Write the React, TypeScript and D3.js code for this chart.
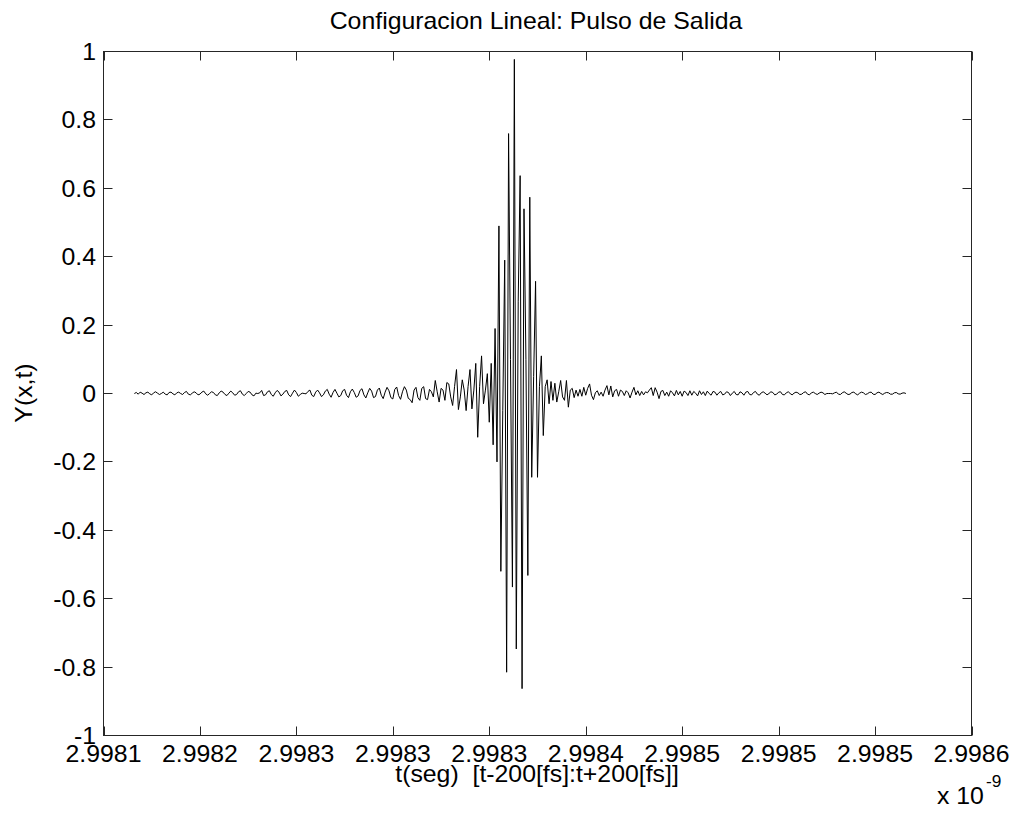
import React from 'react';
import * as d3 from 'd3';

// Sampled output pulse Y(x,t), one sample per fs, t from t-200fs to t+200fs (units: 1e-9 s)
const tStart = 2.998166;
const tEnd = 2.998566;
const yValues: number[] = [
  0.000, 0.003, -0.002, 0.004, 0.001, -0.003, 0.002, 0.004, -0.001, -0.004,
  0.002, 0.005, 0.001, -0.003, 0.000, 0.004, -0.002, -0.004, 0.003, 0.004,
  -0.001, -0.004, 0.002, 0.004, 0.000, -0.003, 0.003, 0.006, -0.002, -0.004,
  0.001, 0.005, 0.002, -0.004, -0.002, 0.004, 0.007, -0.001, -0.005, 0.000,
  0.005, 0.003, -0.004, -0.006, 0.002, 0.007, 0.004, -0.003, -0.006, 0.001,
  0.007, 0.002, -0.005, -0.003, 0.005, 0.008, -0.002, -0.006, 0.000, 0.006,
  0.004, -0.004, -0.007, 0.001, 0.000, 0.002, 0.009, -0.006, -0.004, 0.005,
  0.008, -0.003, -0.008, 0.002, 0.009, 0.004, -0.007, -0.002, 0.006, 0.009,
  -0.004, -0.009, 0.001, 0.010, 0.003, -0.008, -0.003, 0.001, 0.000, -0.001,
  0.006, 0.010, -0.005, -0.009, 0.004, 0.010, 0.002, -0.009, -0.004, 0.007,
  0.012, -0.002, -0.011, 0.003, 0.012, 0.001, -0.010, -0.006, 0.008, 0.012,
  -0.005, -0.012, 0.005, 0.013, 0.003, -0.011, -0.007, 0.009, 0.014, -0.004,
  -0.013, 0.002, 0.015, 0.007, -0.012, -0.009, 0.010, 0.016, -0.005, -0.015,
  0.004, 0.018, 0.008, -0.012, -0.016, 0.012, 0.019, -0.006, -0.017, 0.005,
  0.020, 0.010, -0.014, -0.018, -0.027, 0.010, 0.018, -0.012, -0.020, 0.015,
  0.020, -0.015, -0.018, 0.012, 0.005, -0.010, 0.038, 0.005, -0.025, 0.015,
  0.010, -0.020, 0.032, 0.028, -0.010, -0.035, 0.020, 0.070, -0.047, -0.010,
  0.040, 0.010, -0.050, 0.020, 0.070, -0.045, 0.010, 0.088, -0.128, 0.020,
  0.110, -0.030, 0.010, 0.058, -0.084, 0.088, -0.150, 0.190, -0.200, 0.490,
  -0.520, -0.050, 0.390, -0.815, 0.760, 0.100, -0.566, 0.977, -0.747, 0.270,
  0.637, -0.863, 0.540, 0.100, -0.532, 0.574, -0.245, 0.050, 0.328, -0.245,
  0.020, 0.110, -0.123, 0.020, 0.040, -0.030, 0.035, -0.020, 0.030, -0.025,
  0.005, 0.038, -0.010, -0.020, 0.038, -0.040, 0.010, 0.015, -0.012, 0.010,
  -0.008, 0.012, -0.008, 0.018, -0.005, 0.015, 0.028, -0.005, -0.018, 0.002,
  0.008, -0.006, 0.004, -0.008, 0.010, 0.023, -0.004, 0.022, -0.010, 0.008,
  0.012, -0.008, 0.010, 0.006, -0.006, 0.008, 0.002, -0.013, 0.004, 0.018,
  -0.004, 0.008, -0.006, 0.006, -0.004, 0.005, 0.002, 0.010, 0.017, -0.006,
  0.017, 0.004, -0.015, 0.006, 0.009, -0.006, 0.004, -0.008, 0.008, 0.002,
  -0.007, 0.009, -0.004, 0.006, -0.008, 0.007, 0.003, -0.006, 0.008, -0.005,
  0.006, 0.001, -0.007, 0.008, -0.003, 0.005, -0.006, 0.007, 0.000, -0.005,
  0.006, 0.004, -0.005, 0.002, 0.006, -0.004, -0.002, 0.005, 0.003, -0.006,
  0.001, 0.006, -0.003, -0.004, 0.005, 0.002, -0.005, 0.004, 0.006, -0.003,
  -0.004, 0.003, 0.006, -0.002, -0.005, 0.002, 0.005, 0.001, -0.004, 0.000,
  0.005, 0.003, -0.004, -0.002, 0.004, 0.005, -0.003, -0.004, 0.002, 0.005,
  0.000, -0.004, 0.001, 0.004, 0.002, -0.003, -0.002, 0.003, 0.005, -0.002,
  -0.004, 0.002, 0.004, 0.000, -0.003, 0.001, 0.004, 0.002, -0.003, 0.000,
  0.000, 0.000, -0.001, 0.002, 0.004, -0.002, -0.003, 0.002, 0.005, 0.001,
  -0.003, -0.002, 0.003, 0.004, -0.001, -0.004, 0.001, 0.004, 0.002, -0.003,
  -0.001, 0.003, 0.004, -0.002, -0.003, 0.002, 0.004, 0.000, -0.003, 0.001,
  0.003, 0.002, -0.002, -0.002, 0.002, 0.003, -0.001, -0.002, 0.001, 0.002,
  0.000,
];

const xDomain = [2.99815, 2.9986];
const xTickValues = [2.99815, 2.9982, 2.99825, 2.9983, 2.99835, 2.9984, 2.99845, 2.9985, 2.99855, 2.9986];
const xTickLabels = ['2.9981', '2.9982', '2.9983', '2.9983', '2.9983', '2.9984', '2.9985', '2.9985', '2.9985', '2.9986'];
const yTickValues = [1, 0.8, 0.6, 0.4, 0.2, 0, -0.2, -0.4, -0.6, -0.8, -1];
const yTickLabels = ['1', '0.8', '0.6', '0.4', '0.2', '0', '-0.2', '-0.4', '-0.6', '-0.8', '-1'];

const titleText = 'Configuracion Lineal: Pulso de Salida';
const xLabelText = 't(seg)  [t-200[fs]:t+200[fs]]';
const yLabelText = 'Y(x,t)';

const FONT = "'Liberation Sans', Arial, Helvetica, sans-serif";
const FS = 23;
const SX = 1.08;

function T({ x, y, anchor = 'middle', size = FS, rotate = 0, children }: any) {
  return (
    <text
      transform={`translate(${x},${y}) rotate(${rotate}) scale(${SX},1)`}
      textAnchor={anchor}
      fontFamily={FONT}
      fontSize={size}
      fill="#000"
      style={{ whiteSpace: 'pre' }}
    >
      {children}
    </text>
  );
}

export default function App() {
  const W = 1016;
  const H = 817;
  const L = 103.5, R = 971.5, TOP = 51.5, BOT = 735.5;
  const x = d3.scaleLinear().domain(xDomain).range([L, R]);
  const y = d3.scaleLinear().domain([-1, 1]).range([BOT, TOP]);
  const step = (tEnd - tStart) / (yValues.length - 1);
  const pts: [number, number][] = yValues.map((v, i) => [tStart + i * step, v]);
  const line = d3.line<[number, number]>().x(d => x(d[0])).y(d => y(d[1]));
  const TL = 9;
  const axisColor = '#262626';

  return (
    <svg width={W} height={H} style={{ position: 'absolute', left: 0, top: 0, background: '#fff' }}>
      <rect x={0} y={0} width={W} height={H} fill="#fff" />
      <path d={line(pts) || ''} fill="none" stroke="#000" strokeWidth={1} strokeLinejoin="miter" />
      <rect x={L} y={TOP} width={R - L} height={BOT - TOP} fill="none" stroke={axisColor} strokeWidth={1} />
      {xTickValues.map((v, i) => {
        const px = Math.round(x(v)) + 0.5;
        return (
          <g key={'xt' + i}>
            <line x1={px} x2={px} y1={BOT} y2={BOT - TL} stroke={axisColor} />
            <line x1={px} x2={px} y1={TOP} y2={TOP + TL} stroke={axisColor} />
            <T x={x(v)} y={762}>{xTickLabels[i]}</T>
          </g>
        );
      })}
      {yTickValues.map((v, i) => {
        const py = Math.round(y(v) - 0.5) + 0.5;
        return (
          <g key={'yt' + i}>
            <line x1={L} x2={L + TL} y1={py} y2={py} stroke={axisColor} />
            <line x1={R} x2={R - TL} y1={py} y2={py} stroke={axisColor} />
            <T x={96} y={y(v) + 8.5} anchor="end">{yTickLabels[i]}</T>
          </g>
        );
      })}
      <T x={536} y={29}>{titleText}</T>
      <T x={537} y={782}>{xLabelText}</T>
      <T x={32} y={393} rotate={-90}>{yLabelText}</T>
      <text transform={`translate(937,804) scale(${SX},1)`} fontFamily={FONT} fontSize={FS} fill="#000">
        x 10
      </text>
      <text transform={`translate(986,787) scale(${SX},1)`} fontFamily={FONT} fontSize={16} fill="#000">
        -9
      </text>
    </svg>
  );
}
